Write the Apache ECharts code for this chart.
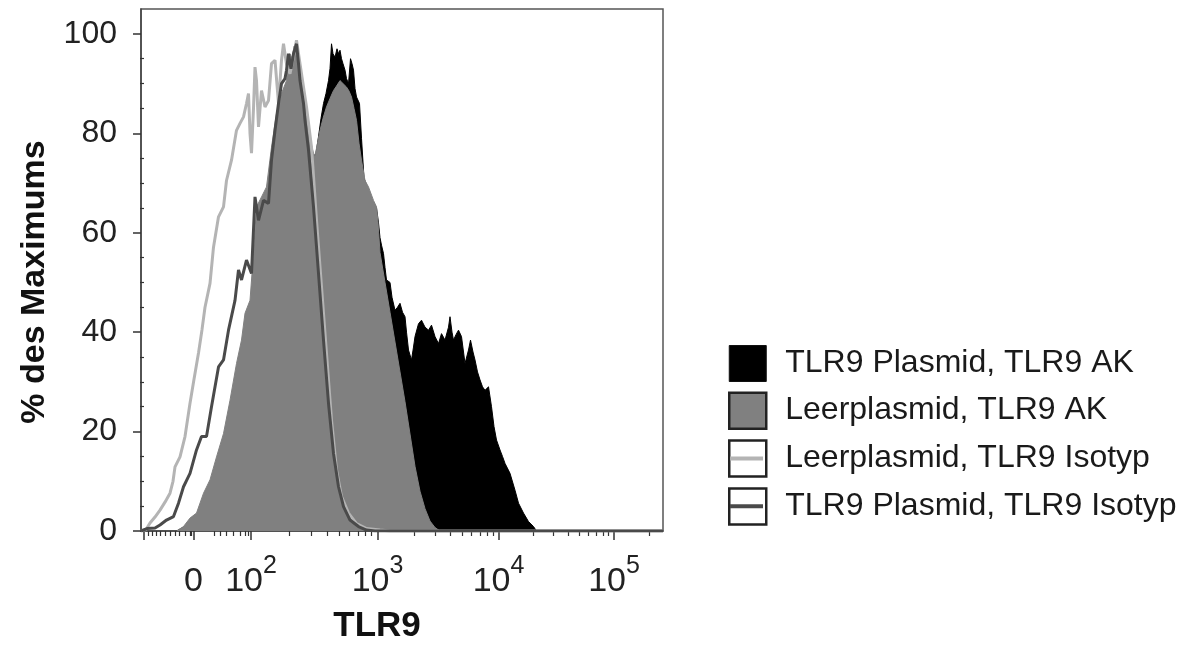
<!DOCTYPE html>
<html><head><meta charset="utf-8">
<script src="https://cdn.jsdelivr.net/npm/echarts@6/dist/echarts.min.js"></script>
<style>html,body{margin:0;padding:0;background:#fff}#c{width:1184px;height:646px}</style>
</head><body><div id="c"></div>
<script>
// Series names (legend order)
const seriesNames = ['TLR9 Plasmid, TLR9 AK', 'Leerplasmid, TLR9 AK', 'Leerplasmid, TLR9 Isotyp', 'TLR9 Plasmid, TLR9 Isotyp'];

// Histogram data: [display channel, % des Maximums]
const plasmidAK = [[65,0],[92,1.5],[119,5],[145,11],[172,21],[195,32],[219,45],[235,55],[255,64],[275,72],[292,76],[312,75],[332,74],[344,76],[349,79.3],[354,83],[359,86],[364,88],[369,90.6],[372,93],[375,98],[378,96],[382,95.3],[386,97],[389,96],[392,96.7],[395,95],[398,94],[402,92.7],[405,91],[409,90],[413,95],[416,94],[419,92.7],[422,89],[425,87.3],[428,87.5],[431,86],[435,79],[440,71],[448,68.8],[456,66.5],[465,65],[469,62],[472,59],[475,57.5],[479,55.8],[482,53],[485,50.5],[489,50.5],[492,50],[496,47],[502,44.4],[507,45],[512,45.8],[517,44],[522,43.1],[525,40],[529,36.4],[535,34.4],[539,37],[542,39.1],[549,41.7],[555,42.4],[562,41],[569,40.4],[575,41.4],[582,39.1],[589,37.7],[595,39.7],[602,38.4],[609,41],[612,43.1],[616,40],[619,38.4],[624,39.5],[629,40.4],[635,39.1],[642,33.7],[649,36.4],[653,38.4],[658,36],[662,34.4],[667,32],[672,30.4],[677,29],[682,28.3],[689,29],[695,25],[700,21],[705,18.3],[712,16.3],[717,15],[722,13.6],[732,11.6],[742,8.2],[749,5.6],[759,3.6],[769,1.9],[779,0.9],[785,0],[1038,0]];
const leerAK = [[65,0],[79,0.9],[92,2.6],[105,3.6],[119,7.6],[132,10.3],[145,14.9],[159,19.6],[172,26.3],[185,33.7],[195,38.4],[202,43.8],[212,46.4],[219,55.8],[225,65.2],[235,67.2],[245,69.2],[255,77.2],[265,84],[275,88],[285,90.6],[292,96],[296,95],[300,97.5],[304,96],[308,94],[313,91],[319,88],[324,84],[329,80.6],[334,78],[339,76],[342,75.5],[347,78],[352,80.6],[358,83],[365,85.3],[372,87],[379,88.6],[385,89.5],[392,90.6],[398,90],[405,89.3],[410,88.5],[415,87.3],[420,85],[425,82.6],[430,78],[435,74.6],[442,70.5],[449,69.2],[459,66.5],[465,65.2],[468,62],[472,56],[482,50],[492,44],[502,38],[512,32],[522,26],[532,19.5],[542,13],[552,8],[562,4.5],[572,2],[582,0.7],[592,0],[1038,0]];
const leerIsotyp = [[-6,0],[4,0.3],[12,1.6],[22,2.8],[32,4.2],[42,5.8],[52,7.6],[58,10],[62,12.9],[72,14.9],[82,19],[92,25.7],[100,30.5],[109,35.8],[116,40.5],[122,45],[132,49.8],[139,57.1],[149,63.2],[159,65.2],[165,70.5],[175,74.6],[185,80.6],[192,82],[199,83.3],[205,86],[209,88],[212,80],[215,76],[219,85],[222,93.3],[225,90.6],[229,81.3],[235,88.6],[242,85.3],[249,86.6],[255,94],[262,94.7],[269,86],[275,94.7],[279,98],[285,94],[292,92],[298,95],[305,98.7],[312,94],[319,89.3],[325,85.3],[335,77.2],[345,62.5],[355,49.1],[365,35.7],[375,22.3],[385,12.3],[395,6.9],[409,3.6],[425,1.5],[445,0.5],[472,0.2],[492,0],[1038,0]];
const plasmidIsotyp = [[-6,0],[6,0.5],[22,0.6],[32,1.2],[45,2.2],[59,2.9],[69,5.6],[79,8.9],[92,11.6],[105,16.3],[115,19],[125,19],[135,25],[149,33],[159,34.4],[169,40.4],[182,46.4],[189,52.5],[195,50.5],[205,54.5],[215,51.8],[222,67.2],[229,62.5],[239,66.5],[249,65.9],[255,74.6],[262,80.6],[269,86],[275,90],[282,91],[285,92.7],[289,96],[294,93],[299,96],[305,98],[309,94],[312,90.6],[319,86],[322,82.6],[329,76.6],[339,65.2],[349,51.8],[359,38.4],[369,25.7],[379,15.6],[389,8.9],[399,4.9],[412,2.2],[429,0.9],[445,0.2],[462,0],[1038,0]];

// Axis ticks (display channels) and labels
const xMajorTicks = [0, 99, 214, 467, 709, 940];
const xLabelTicks = [99, 214, 467, 709, 940];
const xLabels = ['{b|0}', '{b|10}{s|2}', '{b|10}{s|3}', '{b|10}{s|4}', '{b|10}{s|5}'];
const xMinorLow = [9, 17, 25, 33, 42, 52, 62, 71, 82, 92, 95, 140, 152, 165, 178, 192, 202, 208];
const decadeStarts = [214, 467, 709, 940];
const decadeSpans = [253, 242, 231, 231];
const yMajorTicks = [0, 20, 40, 60, 80, 100];
const yMinorTicks = [5, 10, 15, 25, 30, 35, 45, 50, 55, 65, 70, 75, 85, 90, 95];

const X_MIN = -6, X_MAX = 1038;
const xMinor = xMinorLow.slice();
decadeStarts.forEach((c, i) => {
  for (let k = 2; k <= 9; k++) {
    const v = c + Math.log10(k) * decadeSpans[i];
    if (v < X_MAX) xMinor.push(v);
  }
});

const FONT = '"Liberation Sans", Arial, sans-serif';
const chart = echarts.init(document.getElementById('c'), null, {renderer: 'canvas'});

const option = {
  animation: false,
  backgroundColor: '#fff',
  textStyle: {fontFamily: FONT},
  grid: {left: 141, right: 521, top: 9, bottom: 115, outerBoundsMode: 'none', containLabel: false,
    show: true, borderColor: '#555', borderWidth: 1.5, backgroundColor: 'transparent'},
  xAxis: [{
    type: 'value', min: X_MIN, max: X_MAX,
    axisLine: {show: true, onZero: false, lineStyle: {color: '#444', width: 1.5}},
    axisTick: {show: true, customValues: xMajorTicks, length: 9, lineStyle: {color: '#333', width: 1.5}},
    axisLabel: {
      customValues: xLabelTicks, hideOverlap: false, showMinLabel: true, showMaxLabel: true,
      formatter: v => { const i = xLabelTicks.indexOf(v); return i >= 0 ? xLabels[i] : ''; },
      fontSize: 33, color: '#222', fontFamily: FONT, margin: 23,
      rich: {
        b: {fontSize: 34, color: '#222', fontFamily: FONT, lineHeight: 45, verticalAlign: 'bottom'},
        s: {fontSize: 25, color: '#222', fontFamily: FONT, verticalAlign: 'bottom', padding: [0, 0, 20, 0]}
      }
    },
    splitLine: {show: false},
    name: 'TLR9', nameLocation: 'middle', nameGap: 78,
    nameTextStyle: {fontSize: 35, fontWeight: 'bold', color: '#111', fontFamily: FONT, padding: [0, 50, 0, 0]}
  }, {
    type: 'value', min: X_MIN, max: X_MAX, position: 'bottom',
    axisLine: {show: false},
    axisTick: {show: true, customValues: xMinor, length: 5, lineStyle: {color: '#333', width: 1.2}},
    axisLabel: {show: false},
    splitLine: {show: false}
  }],
  yAxis: [{
    type: 'value', min: 0, max: 105,
    axisLine: {show: true, onZero: false, lineStyle: {color: '#444', width: 1.5}},
    axisTick: {show: true, customValues: yMajorTicks, length: 8, lineStyle: {color: '#333', width: 1.5}},
    axisLabel: {customValues: yMajorTicks, fontSize: 32, color: '#222', fontFamily: FONT, margin: 24},
    splitLine: {show: false},
    name: '% des Maximums', nameLocation: 'middle', nameRotate: 90, nameGap: 89,
    nameTextStyle: {fontSize: 34, fontWeight: 'bold', color: '#111', fontFamily: FONT, padding: [0, 24, 0, 0]}
  }, {
    type: 'value', min: 0, max: 105, position: 'left',
    axisLine: {show: false},
    axisTick: {show: true, customValues: yMinorTicks, length: 4, lineStyle: {color: '#333', width: 1.2}},
    axisLabel: {show: false},
    splitLine: {show: false}
  }],
  legend: {
    orient: 'vertical', left: 728, top: 345, padding: 0, itemWidth: 37, itemHeight: 36, itemGap: 9.4,
    selectedMode: false,
    textStyle: {fontSize: 32, color: '#1a1a1a', fontFamily: FONT, padding: [0, 0, 0, 14], lineHeight: 36},
    data: [
      {name: seriesNames[0], icon: 'rect', itemStyle: {color: '#000', borderColor: '#111', borderWidth: 1}},
      {name: seriesNames[1], icon: 'rect', itemStyle: {color: '#808080', borderColor: '#222', borderWidth: 2.5}},
      {name: seriesNames[2], icon: 'rect', itemStyle: {color: '#fff', borderColor: '#222', borderWidth: 2.5}},
      {name: seriesNames[3], icon: 'rect', itemStyle: {color: '#fff', borderColor: '#222', borderWidth: 2.5}}
    ]
  },
  graphic: [
    {type: 'line', shape: {x1: 730, y1: 458.5, x2: 763, y2: 458.5}, style: {stroke: '#b4b4b4', lineWidth: 4}, z: 100},
    {type: 'line', shape: {x1: 730, y1: 506.2, x2: 763, y2: 506.2}, style: {stroke: '#4a4a4a', lineWidth: 4}, z: 100}
  ],
  series: [
    {name: seriesNames[0], type: 'line', z: 1, data: plasmidAK, symbol: 'none',
      lineStyle: {color: '#000', width: 1}, itemStyle: {color: '#000'}, areaStyle: {color: '#000', opacity: 1}},
    {name: seriesNames[1], type: 'line', z: 2, data: leerAK, symbol: 'none',
      lineStyle: {color: '#808080', width: 1}, itemStyle: {color: '#808080'}, areaStyle: {color: '#808080', opacity: 1}},
    {name: seriesNames[2], type: 'line', z: 3, data: leerIsotyp, symbol: 'none',
      lineStyle: {color: '#b4b4b4', width: 3}, itemStyle: {color: '#b4b4b4'}},
    {name: seriesNames[3], type: 'line', z: 4, data: plasmidIsotyp, symbol: 'none',
      lineStyle: {color: '#4a4a4a', width: 3}, itemStyle: {color: '#4a4a4a'}}
  ]
};
chart.setOption(option);
</script>
</body></html>
